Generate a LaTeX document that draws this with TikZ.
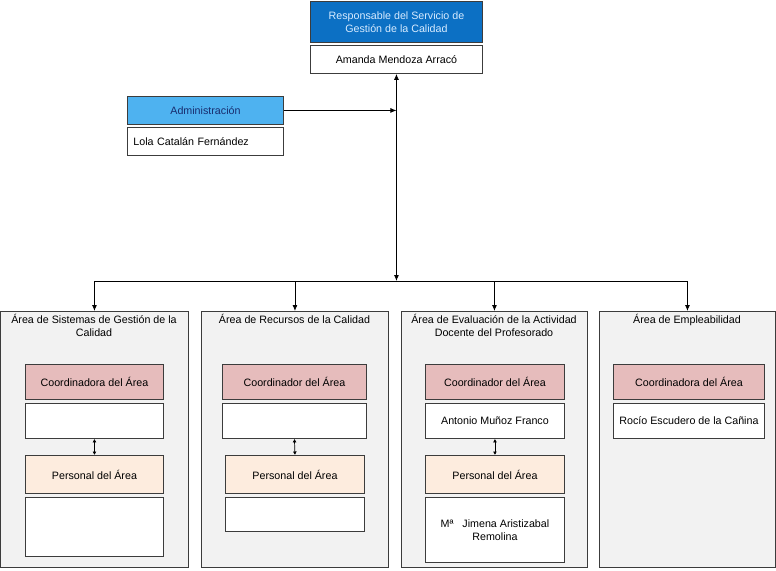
\documentclass[tikz,border=0pt]{standalone}
\usepackage{fontspec}
\setmainfont{Liberation Sans}
\usetikzlibrary{arrows.meta}
\definecolor{topblue}{RGB}{12,112,196}
\definecolor{toptext}{RGB}{215,235,255}
\definecolor{admblue}{RGB}{78,178,240}
\definecolor{admtext}{RGB}{25,45,110}
\definecolor{pinkc}{RGB}{230,188,188}
\definecolor{peach}{RGB}{253,236,222}
\definecolor{areabg}{RGB}{242,242,242}
\definecolor{edge}{RGB}{60,60,60}
\begin{document}
\begin{tikzpicture}[x=1pt,y=-1pt,
  font=\fontsize{10.7}{13}\selectfont,
  bx/.style={draw=edge, line width=0.9pt, inner sep=0pt, anchor=north west, align=center, text=black},
  areabox/.style={bx, fill=areabg},
  whitebox/.style={bx, fill=white},
  coordbox/.style={bx, fill=pinkc},
  persbox/.style={bx, fill=peach},
  areatitle/.style={anchor=north, align=center, inner sep=0pt, text=black},
  arr/.style={line width=0.8pt, -{Latex[length=6pt,width=5pt]}},
  darr/.style={line width=0.8pt, {Latex[length=6pt,width=5pt]}-{Latex[length=6pt,width=5pt]}},
  sarr/.style={line width=0.7pt, {Latex[length=3.5pt,width=4pt]}-{Latex[length=3.5pt,width=4pt]}},
  line/.style={line width=0.8pt}]
\useasboundingbox (0,0) rectangle (776,570);

% top
\node[bx, fill=topblue, text=toptext, minimum width=172pt, minimum height=41pt] (resp) at (310,1) {Responsable del Servicio de\\Gestión de la Calidad};
\node[whitebox, minimum width=172pt, minimum height=28pt] (amanda) at (310,45) {Amanda Mendoza Arracó};

% administration
\node[bx, fill=admblue, text=admtext, minimum width=156pt, minimum height=28pt] (adm) at (127,96) {Administración};
\node[whitebox, minimum width=156pt, minimum height=28pt, text width=144pt, inner xsep=6pt, align=left] (lola) at (127,127) {Lola Catalán Fernández};

% areas
\node[areabox, minimum width=188pt, minimum height=256pt] (a1) at (0,311) {};
\node[areabox, minimum width=187pt, minimum height=256pt] (a2) at (201,311) {};
\node[areabox, minimum width=186pt, minimum height=256pt] (a3) at (401,311) {};
\node[areabox, minimum width=176pt, minimum height=256pt] (a4) at (599,311) {};

\node[areatitle] (t1) at (94,314) {Área de Sistemas de Gestión de la\\Calidad};
\node[areatitle] (t2) at (294.5,314) {Área de Recursos de la Calidad};
\node[areatitle] (t3) at (494,314) {Área de Evaluación de la Actividad\\Docente del Profesorado};
\node[areatitle] (t4) at (687,314) {Área de Empleabilidad};

% area 1
\node[coordbox, minimum width=138pt, minimum height=35pt] (c1) at (25,364) {Coordinadora del Área};
\node[whitebox, minimum width=138pt, minimum height=35pt] (n1) at (25,403) {};
\node[persbox, minimum width=138pt, minimum height=38pt] (p1) at (25,455) {Personal del Área};
\node[whitebox, minimum width=138pt, minimum height=59pt] (m1) at (25,497) {};

% area 2
\node[coordbox, minimum width=144pt, minimum height=35pt] (c2) at (222,364) {Coordinador del Área};
\node[whitebox, minimum width=144pt, minimum height=35pt] (n2) at (222,403) {};
\node[persbox, minimum width=139pt, minimum height=38pt] (p2) at (225,455) {Personal del Área};
\node[whitebox, minimum width=139pt, minimum height=34pt] (m2) at (225,497) {};

% area 3
\node[coordbox, minimum width=139pt, minimum height=35pt] (c3) at (425,364) {Coordinador del Área};
\node[whitebox, minimum width=139pt, minimum height=35pt] (n3) at (425,403) {Antonio Muñoz Franco};
\node[persbox, minimum width=139pt, minimum height=38pt] (p3) at (425,455) {Personal del Área};
\node[whitebox, minimum width=139pt, minimum height=65pt] (m3) at (425,497) {Mª\ \ \ Jimena Aristizabal\\Remolina};

% area 4
\node[coordbox, minimum width=151pt, minimum height=35pt] (c4) at (613,364) {Coordinadora del Área};
\node[whitebox, minimum width=151pt, minimum height=35pt] (n4) at (613,403) {Rocío Escudero de la Cañina};

% connectors
\coordinate (bus) at (0,281);
\draw[darr] (amanda.south) -- (amanda.south |- bus);
\draw[arr] (adm.east) -- (adm.east -| amanda.south);
\draw[line] (a1.north |- bus) -- (a4.north |- bus);
\draw[arr] (a1.north |- bus) -- (a1.north);
\draw[arr] (a2.north |- bus) -- (a2.north);
\draw[arr] (a3.north |- bus) -- (a3.north);
\draw[arr] (a4.north |- bus) -- (a4.north);

\draw[sarr] (n1.south) -- (p1.north);
\draw[sarr] (n2.south) -- (p2.north);
\draw[sarr] (n3.south) -- (p3.north);
\end{tikzpicture}
\end{document}
